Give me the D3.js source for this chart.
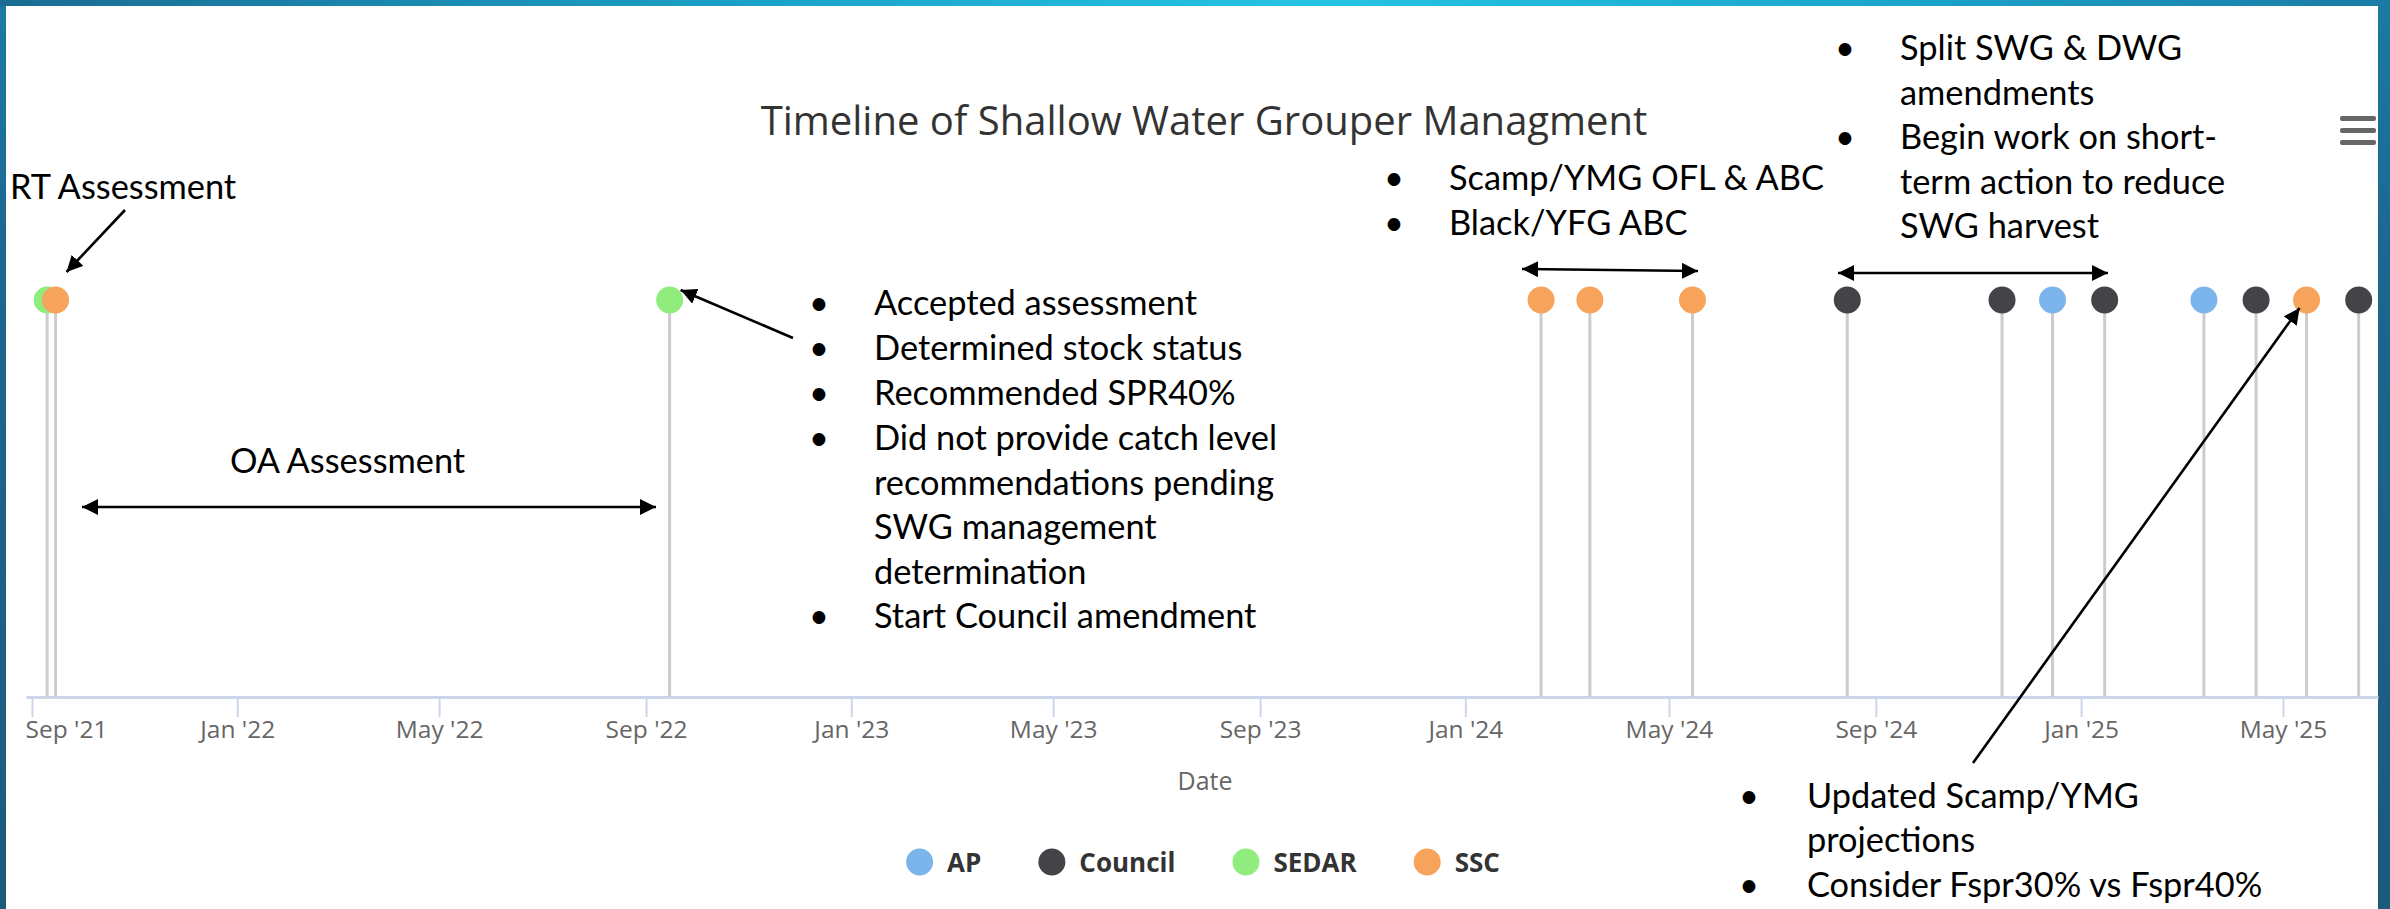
<!DOCTYPE html>
<html><head><meta charset="utf-8">
<script src="https://cdn.jsdelivr.net/npm/d3@7"></script>
<style>body{margin:0;overflow:hidden;background:#fff}svg{display:block}</style>
</head><body>
<svg id="c" width="2390" height="909"></svg>
<script>
// ---------- DATA ----------
const categories = ["AP", "Council", "SEDAR", "SSC"];
const categoryColors = ["#7cb5ec", "#434348", "#90ed7d", "#f7a35c"];
const eventDates = ["2021-09-10","2021-09-15","2022-09-15","2024-02-15","2024-03-15","2024-05-15",
                    "2024-08-15","2024-11-15","2024-12-15","2025-01-15","2025-03-15","2025-04-15",
                    "2025-05-15","2025-06-15"];
const eventGroups = ["SEDAR","SSC","SEDAR","SSC","SSC","SSC","Council","Council","AP","Council","AP","Council","SSC","Council"];
const tickDates = ["2021-09-01","2022-01-01","2022-05-01","2022-09-01","2023-01-01","2023-05-01",
                   "2023-09-01","2024-01-01","2024-05-01","2024-09-01","2025-01-01","2025-05-01"];
const titleText = "Timeline of Shallow Water Grouper Managment";
const xAxisTitle = "Date";
// annotation texts (bullet flag per line)
const noteRT = ["RT Assessment"];
const noteOA = ["OA Assessment"];
const noteSedar22 = [["Accepted assessment",1],["Determined stock status",1],["Recommended SPR40%",1],
  ["Did not provide catch level",1],["recommendations pending",0],["SWG management",0],["determination",0],
  ["Start Council amendment",1]];
const noteSSC24 = [["Scamp/YMG OFL & ABC",1],["Black/YFG ABC",1]];
const noteCouncil24 = [["Split SWG & DWG",1],["amendments",0],["Begin work on short-",1],["term action to reduce",0],["SWG harvest",0]];
const noteSSC25 = [["Updated Scamp/YMG",1],["projections",0],["Consider Fspr30% vs Fspr40%",1]];

// ---------- LAYOUT ----------
const W = 2390, H = 909;
const svg = d3.select("#c");
const parse = d3.utcParse("%Y-%m-%d");
const hcFont = "'Open Sans', 'DejaVu Sans', sans-serif";
const noteFont = "Lato, 'Open Sans', sans-serif";

// frame background (slide)
const defs = svg.append("defs");
const g1 = defs.append("linearGradient").attr("id","topband").attr("x1","0").attr("x2","1").attr("y1","0").attr("y2","0");
[[0,"#1b6b92"],[0.3,"#1a9fc6"],[0.55,"#25c4e2"],[0.8,"#1aa4cc"],[1,"#1b7aa3"]].forEach(s=>g1.append("stop").attr("offset",s[0]).attr("stop-color",s[1]));
const g2 = defs.append("linearGradient").attr("id","side").attr("x1","0").attr("x2","0").attr("y1","0").attr("y2","1");
[[0,"#1b7aa3"],[0.3,"#1c6690"],[1,"#1c5a7c"]].forEach(s=>g2.append("stop").attr("offset",s[0]).attr("stop-color",s[1]));
svg.append("rect").attr("width",W).attr("height",H).attr("fill","url(#side)");
svg.append("rect").attr("width",W).attr("height",6).attr("fill","url(#topband)");
svg.append("rect").attr("x",6).attr("y",6).attr("width",2372).attr("height",H-6).attr("fill","#fff");

// scales
const x = d3.scaleUtc().domain([parse("2021-09-01"), parse("2025-05-01")]).range([32, 2283]);
x.domain([x.invert(26), x.invert(2378)]).range([26, 2378]);
const y = d3.scaleLinear().domain([0, 1]).range([697, 300]);
const color = d3.scaleOrdinal().domain(categories).range(categoryColors);

// title
svg.append("text").attr("x",1204).attr("y",135).attr("text-anchor","middle")
  .style("font-family",hcFont).style("font-size","40px").attr("fill","#333").text(titleText);

// hamburger
[116,128,140].forEach(yy=>svg.append("rect").attr("x",2340).attr("y",yy).attr("width",36).attr("height",5).attr("rx",2).attr("fill","#666"));

// axis
const ax = svg.append("g").attr("transform",`translate(0,${y(0)})`)
  .call(d3.axisBottom(x).tickValues(tickDates.map(parse)).tickFormat(d3.utcFormat("%b '%y")).tickSize(20).tickSizeOuter(0));
ax.select(".domain").attr("stroke","#ccd6eb").attr("stroke-width",3);
ax.selectAll(".tick line").attr("stroke","#ccd6eb").attr("stroke-width",2);
ax.selectAll(".tick text").attr("y",41).attr("dy",0).attr("fill","#666")
  .style("font-family",hcFont).style("font-size","24.5px");
// justify first label inside plot (Highcharts overflow behaviour)
ax.selectAll(".tick").each(function(){
  const t = d3.select(this).select("text");
  const bb = this.getBBox ? t.node().getBBox() : null;
  const tx = x(d3.select(this).datum());
  if (tx + bb.x < 25) t.attr("x", 25 - tx - bb.x);
});
svg.append("text").attr("x",1205).attr("y",790).attr("text-anchor","middle").attr("fill","#666")
  .style("font-family",hcFont).style("font-size","25px").text(xAxisTitle);

// stems + markers
const events = eventDates.map((d,i)=>({date:parse(d), group:eventGroups[i]}));
svg.append("g").selectAll("line").data(events).join("line")
  .attr("x1",d=>x(d.date)).attr("x2",d=>x(d.date)).attr("y1",y(1)).attr("y2",y(0))
  .attr("stroke","#cccccc").attr("stroke-width",3);
svg.append("g").selectAll("circle").data(events).join("circle")
  .attr("cx",d=>x(d.date)).attr("cy",y(1)).attr("r",13.5).attr("fill",d=>color(d.group));

// legend
const lg = svg.append("g");
let lx = 0;
categories.forEach((c,i)=>{
  const it = lg.append("g").attr("transform",`translate(${lx},0)`);
  it.append("circle").attr("cx",13.5).attr("cy",0).attr("r",13.5).attr("fill",color(c));
  const t = it.append("text").attr("x",41).attr("y",9.5).attr("fill","#333")
    .style("font-family",hcFont).style("font-size","26px").style("font-weight","bold").text(c);
  lx += 41 + t.node().getComputedTextLength() + 57;
});
const lw = lx - 57;
lg.attr("transform",`translate(${1203 - lw/2},862)`);

// annotation font size matched to reference text width
const probe = svg.append("text").style("font-family",noteFont).style("font-size","100px").text("Accepted assessment");
const noteSize = 100 * 323 / probe.node().getComputedTextLength();
probe.remove();

function note(lines, tx, bx, baselines){
  const g = svg.append("g").style("font-family",noteFont).style("font-size",noteSize+"px").attr("fill","#000");
  lines.forEach((ln,i)=>{
    const [txt,b] = Array.isArray(ln) ? ln : [ln,0];
    g.append("text").attr("x",tx).attr("y",baselines[i]).text(txt);
    if (b) g.append("text").attr("x",bx).attr("y",baselines[i]).attr("text-anchor","middle").text("\u2022");
  });
}
note(noteRT, 10, 0, [199]);
note(noteOA, 230, 0, [473]);
note(noteSedar22, 874, 819, [315,360,405,450,495,539,584,628]);
note(noteSSC24, 1449, 1394, [190,235]);
note(noteCouncil24, 1900, 1845, [60,105,149,194,238]);
note(noteSSC25, 1807, 1749, [808,852,897]);

// arrows
defs.append("marker").attr("id","ah").attr("viewBox","0 0 16 16").attr("refX",16).attr("refY",8)
  .attr("markerWidth",16).attr("markerHeight",16).attr("markerUnits","userSpaceOnUse").attr("orient","auto-start-reverse")
  .append("path").attr("d","M0,0 L16,8 L0,16 Z").attr("fill","#000");
function arrow(p0, p1, both){
  const l = svg.append("line").attr("x1",p0[0]).attr("y1",p0[1]).attr("x2",p1[0]).attr("y2",p1[1])
    .attr("stroke","#000").attr("stroke-width",2.6).attr("marker-end","url(#ah)");
  if (both) l.attr("marker-start","url(#ah)");
}
const mk = i => [x(events[i].date), y(1)];
arrow([125,210], [mk(1)[0]+11, mk(1)[1]-28]);
arrow([82,507], [656,507], true);
arrow([793,338], [mk(2)[0]+11, mk(2)[1]-10]);
arrow([1522,269], [1698,271], true);
arrow([1838,273], [2108,273], true);
arrow([1973,763], [mk(12)[0]-7, mk(12)[1]+8]);
</script>
</body></html>
